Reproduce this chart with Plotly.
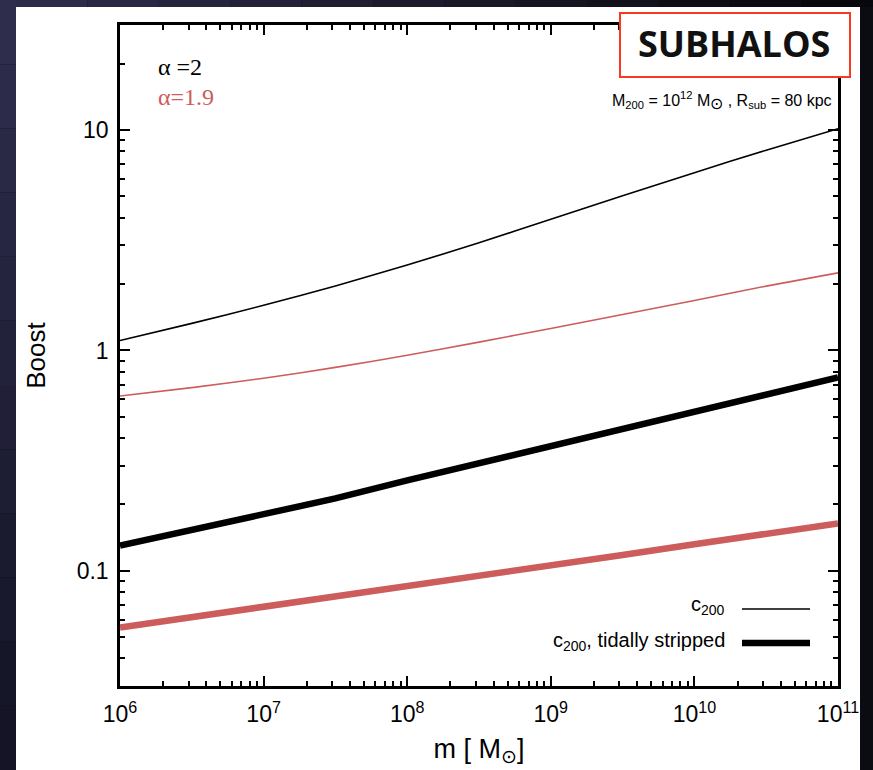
import plotly.graph_objects as go

# ---- data ----
mass = [1e6, 10**6.5, 1e7, 10**7.5, 1e8, 10**8.5, 1e9, 10**9.5, 1e10, 10**10.5, 1e11]
boost_c200_a2 = [1.109, 1.327, 1.603, 1.963, 2.443, 3.083, 3.936, 5.035, 6.412, 8.11, 10.15]
boost_c200_a19 = [0.621, 0.678, 0.748, 0.838, 0.951, 1.091, 1.259, 1.455, 1.687, 1.959, 2.25]
boost_strip_a2 = [0.130, 0.153, 0.180, 0.213, 0.257, 0.308, 0.370, 0.442, 0.527, 0.631, 0.755]
boost_strip_a19 = [0.0553, 0.0615, 0.0684, 0.0764, 0.0855, 0.0955, 0.106, 0.118, 0.132, 0.147, 0.164]

x_tickvals = [1e6, 1e7, 1e8, 1e9, 1e10, 1e11]
x_ticktext = ["10<sup>6</sup>", "10<sup>7</sup>", "10<sup>8</sup>", "10<sup>9</sup>",
              "10<sup>10</sup>", "10<sup>11</sup>"]
y_tickvals = [0.1, 1, 10]
y_ticktext = ["0.1", "1", "10"]

BLACK = "#000000"
RED = "#cd5c5c"

W, H = 873, 770
L, R, T, B = 120, 35, 25, 84
PW, PH = W - L - R, H - T - B


def px(x):
    return (x - L) / PW


def py(y):
    return (H - B - y) / PH


fig = go.Figure()
fig.add_trace(go.Scatter(x=mass, y=boost_c200_a2, mode="lines", line=dict(color=BLACK, width=1.6, shape="spline", smoothing=0.8), showlegend=False))
fig.add_trace(go.Scatter(x=mass, y=boost_c200_a19, mode="lines", line=dict(color=RED, width=1.6, shape="spline", smoothing=0.8), showlegend=False))
fig.add_trace(go.Scatter(x=mass, y=boost_strip_a2, mode="lines", line=dict(color=BLACK, width=6.5), showlegend=False))
fig.add_trace(go.Scatter(x=mass, y=boost_strip_a19, mode="lines", line=dict(color=RED, width=6.5), showlegend=False))

shapes = []


def lerp(c1, c2, t):
    return "rgb(%d,%d,%d)" % tuple(int(round(a + (b - a) * t)) for a, b in zip(c1, c2))


n = 12
for i in range(n):
    y0 = i * H / n
    y1 = (i + 1) * H / n
    shapes.append(dict(type="rect", xref="paper", yref="paper", x0=px(0), x1=px(16),
                       y0=py(y1), y1=py(y0), line=dict(width=0),
                       fillcolor=lerp((46, 45, 76), (20, 20, 38), i / (n - 1)), layer="below"))
for i in range(n):
    x0 = 16 + i * (W - 16) / n
    x1 = 16 + (i + 1) * (W - 16) / n
    shapes.append(dict(type="rect", xref="paper", yref="paper", x0=px(x0), x1=px(x1),
                       y0=py(7), y1=py(0), line=dict(width=0),
                       fillcolor=lerp((44, 43, 72), (8, 8, 12), i / (n - 1)), layer="below"))
# white page
shapes.append(dict(type="rect", xref="paper", yref="paper", x0=px(16), x1=px(860),
                   y0=py(H + 2), y1=py(7), line=dict(width=0), fillcolor="white", layer="below"))
# legend keys
shapes.append(dict(type="line", xref="paper", yref="paper", x0=px(742), x1=px(810),
                   y0=py(609), y1=py(609), line=dict(color=BLACK, width=1.6)))
shapes.append(dict(type="line", xref="paper", yref="paper", x0=px(742), x1=px(810),
                   y0=py(643), y1=py(643), line=dict(color=BLACK, width=6.5)))
# SUBHALOS box
shapes.append(dict(type="rect", xref="paper", yref="paper", x0=px(620), x1=px(850),
                   y0=py(77), y1=py(13), line=dict(color="#f53a22", width=2),
                   fillcolor="white", layer="above"))

sans = "Liberation Sans, Arial, Helvetica, sans-serif"
serif = "Liberation Serif, Times New Roman, serif"

annotations = [
    dict(text="SUBHALOS", x=px(734), y=py(43), xref="paper", yref="paper", showarrow=False,
         font=dict(family="Open Sans", size=36, color="#111111", weight="bold"),
         xanchor="center", yanchor="middle"),
    dict(text="α =2", x=px(156), y=py(67), xref="paper", yref="paper", showarrow=False,
         font=dict(family=serif, size=24, color=BLACK), xanchor="left", yanchor="middle"),
    dict(text="α=1.9", x=px(156), y=py(97), xref="paper", yref="paper", showarrow=False,
         font=dict(family=serif, size=24, color=RED), xanchor="left", yanchor="middle"),
    dict(text="M<sub>200</sub> = 10<sup>12</sup> M<sub><span style='font-size:16px'>⊙</span></sub> , R<sub>sub</sub> = 80 kpc",
         x=px(834), y=py(100), xref="paper", yref="paper", showarrow=False,
         font=dict(family=sans, size=16, color=BLACK), xanchor="right", yanchor="middle"),
    dict(text="c<sub>200</sub>", x=px(727), y=py(605), xref="paper", yref="paper", showarrow=False,
         font=dict(family=sans, size=20, color=BLACK), xanchor="right", yanchor="middle"),
    dict(text="c<sub>200</sub>, tidally stripped", x=px(727), y=py(641), xref="paper", yref="paper",
         showarrow=False, font=dict(family=sans, size=20, color=BLACK), xanchor="right", yanchor="middle"),
]

axis_common = dict(
    type="log", showline=True, linecolor=BLACK, linewidth=2.5, mirror="allticks",
    ticks="inside", ticklen=10, tickwidth=1.5, tickcolor=BLACK, showgrid=False, zeroline=False,
    tickfont=dict(family=sans, size=23, color=BLACK),
    minor=dict(ticks="inside", ticklen=5, tickwidth=1.5, tickcolor=BLACK, dtick="D1", showgrid=False),
)

fig.update_layout(
    width=W, height=H,
    margin=dict(l=L, r=R, t=T, b=B),
    paper_bgcolor="#0b0b12",
    plot_bgcolor="white",
    shapes=shapes,
    annotations=annotations,
    xaxis=dict(axis_common, range=[6, 11], tickvals=x_tickvals, ticktext=x_ticktext,
               ticklabelstandoff=6,
               title=dict(text="m [ M<sub>⊙</sub>]", font=dict(family=sans, size=27, color=BLACK), standoff=13)),
    yaxis=dict(axis_common, range=[-1.5229, 1.4771], tickvals=y_tickvals, ticktext=y_ticktext,
               ticklabelstandoff=4,
               title=dict(text="Boost", font=dict(family=sans, size=26, color=BLACK), standoff=24)),
    showlegend=False,
)

fig.write_html("out.html", config={"displayModeBar": False},
               post_script="document.body.style.margin='0';document.body.style.overflow='hidden';")
